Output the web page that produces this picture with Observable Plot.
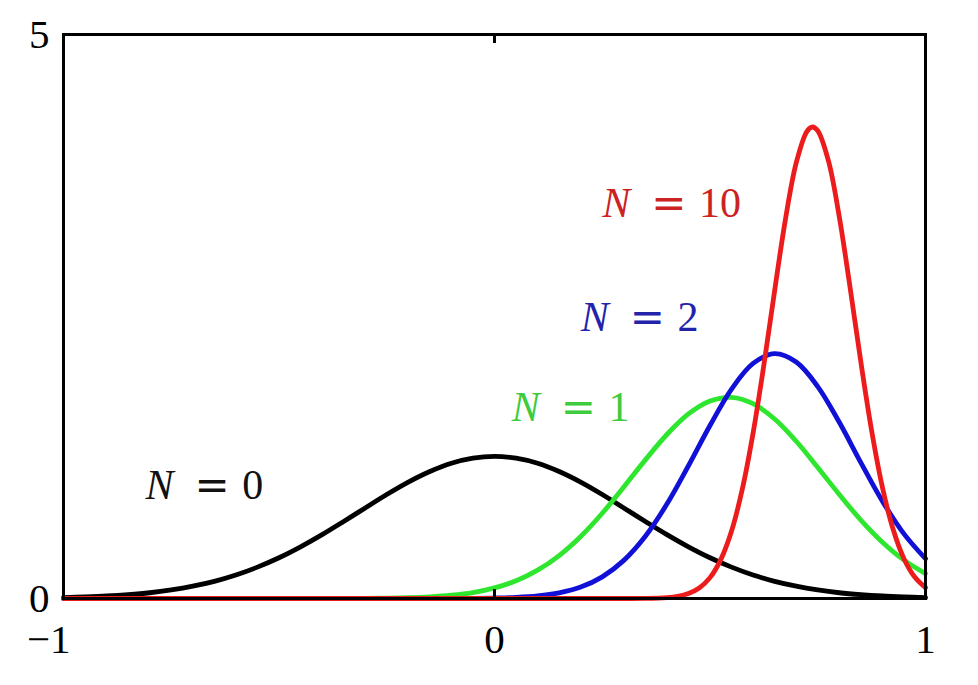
<!DOCTYPE html>
<html><head><meta charset="utf-8">
<script src="https://cdn.jsdelivr.net/npm/d3@7"></script>
<script src="https://cdn.jsdelivr.net/npm/@observablehq/plot@0.6"></script>
<style>body{margin:0;background:#fff}</style>
</head><body><div id="chart"></div>
<script>
// sample positions along mu
const xGrid = [-1,-0.95,-0.9,-0.85,-0.8,-0.75,-0.7,-0.65,-0.6,-0.55,-0.5,-0.45,-0.4,-0.35,-0.3,-0.25,-0.2,-0.15,-0.1,-0.05,
  0,0.05,0.1,0.15,0.2,0.25,0.3,0.35,0.4,0.45,0.5,0.55,0.6,0.65,0.7,0.75,0.8,0.85,0.9,0.95,1];
// N = 0 (black)
const yN0 = [0.008,0.014,0.022,0.034,0.051,0.076,0.109,0.152,0.208,0.278,0.361,0.458,0.566,0.683,0.803,0.922,1.032,1.126,1.199,1.244,
  1.260,1.244,1.199,1.126,1.032,0.922,0.803,0.683,0.566,0.458,0.361,0.278,0.208,0.152,0.109,0.076,0.051,0.034,0.022,0.014,0.008];
// N = 1 (green)
const yN1 = [0,0,0,0,0,0,0,0,0,0,0,0.0001,0.0002,0.0006,0.0015,0.0033,0.007,0.015,0.029,0.053,
  0.094,0.157,0.251,0.381,0.550,0.756,0.989,1.229,1.454,1.636,1.751,1.783,1.727,1.591,1.394,1.162,0.922,0.695,0.499,0.340,0.221];
// N = 2 (blue)
const yN2 = [0,0,0,0,0,0,0,0,0,0,0,0,0,0,0,0,0,0,0.0004,0.0013,
  0.004,0.0095,0.0225,0.050,0.101,0.192,0.338,0.552,0.837,1.177,1.534,1.857,2.084,2.170,2.096,1.879,1.562,1.205,0.863,0.573,0.353];
// N = 10 (red), finer sampling
const xN10 = [-1,0.2,0.3,0.35,0.4,0.425,0.45,0.475,0.5,0.525,0.55,0.575,0.6,0.625,0.65,0.675,0.7,0.725,0.7375,0.75,0.775,0.8,0.825,0.85,0.875,0.9,0.925,0.95,0.975,1];
const yN10 = [0,0,0,0.001,0.008,0.019,0.044,0.093,0.185,0.345,0.598,0.970,1.467,2.071,2.730,3.360,3.861,4.141,4.180,4.147,3.877,3.384,2.757,2.097,1.489,0.987,0.611,0.353,0.190,0.096];

const xTicks = [-1, 0, 1];
const yTicks = [0, 5];
const innerTicks = [0];

const labelText = ["N = 0", "N = 1", "N = 2", "N = 10"];
const labelX = [-0.81, 0.04, 0.2, 0.25];
const labelY = [1.0, 1.69, 2.49, 3.5];
const labelColor = ["#111111", "#3ccc3c", "#2222aa", "#cc2222"];
const curveColor = ["#000000", "#2ee62e", "#1010d6", "#ec1c1c"];

const rows = (xs, ys) => xs.map((x, i) => ({x, y: ys[i]}));
const labels = labelText.map((t, i) => ({text: t, x: labelX[i], y: labelY[i], color: labelColor[i]}));
const fmt = d => (d < 0 ? "\u2212" + (-d) : String(d));
const serif = "'Liberation Serif', 'Times New Roman', serif";

const lineOpts = c => ({x: "x", y: "y", stroke: c, strokeWidth: 4.8, curve: "catmull-rom", strokeLinejoin: "round"});

const chart = Plot.plot({
  width: 978, height: 685,
  marginLeft: 63, marginRight: 53, marginTop: 34, marginBottom: 87,
  x: {domain: [-1, 1], label: null},
  y: {domain: [0, 5], label: null},
  color: {type: "identity"},
  style: {background: "white", fontFamily: serif},
  marks: [
    Plot.line(rows(xGrid, yN0), lineOpts(curveColor[0])),
    Plot.line(rows(xGrid, yN1), lineOpts(curveColor[1])),
    Plot.line(rows(xGrid, yN2), lineOpts(curveColor[2])),
    Plot.line(rows(xN10, yN10), lineOpts(curveColor[3])),
    Plot.text(labels, {x: "x", y: "y", text: "text", fill: d => d.color, textAnchor: "start", fontSize: 42, fontFamily: serif}),
    Plot.frame({stroke: "#000", strokeWidth: 3}),
    Plot.ruleX(innerTicks, {stroke: "#000", strokeWidth: 3, insetTop: 555}),
    Plot.ruleX(innerTicks, {stroke: "#000", strokeWidth: 3, insetBottom: 555}),
    Plot.axisX([xTicks[0]], {anchor: "bottom", label: null, tickSize: 0, tickPadding: 25, fontSize: 41, textAnchor: "end", dx: 7, tickFormat: fmt, fill: "#000"}),
    Plot.axisX(xTicks.slice(1), {anchor: "bottom", label: null, tickSize: 0, tickPadding: 25, fontSize: 41, tickFormat: fmt, fill: "#000"}),
    Plot.axisY(yTicks, {anchor: "left", label: null, tickSize: 0, tickPadding: 14, fontSize: 41, tickFormat: fmt, fill: "#000"})
  ]
});

d3.select(chart).selectAll("text").each(function() {
  const t = this.textContent;
  const m = /^N = (.+)$/.exec(t);
  if (!m) return;
  const sel = d3.select(this);
  sel.text(null);
  sel.append("tspan").attr("font-style", "italic").text("N");
  sel.append("tspan").attr("font-family", "'DejaVu Sans'").attr("dx", "0.5em").text("=");
  sel.append("tspan").attr("dx", "0.3em").text(m[1]);
});

document.getElementById("chart").appendChild(chart);
</script>
</body></html>
